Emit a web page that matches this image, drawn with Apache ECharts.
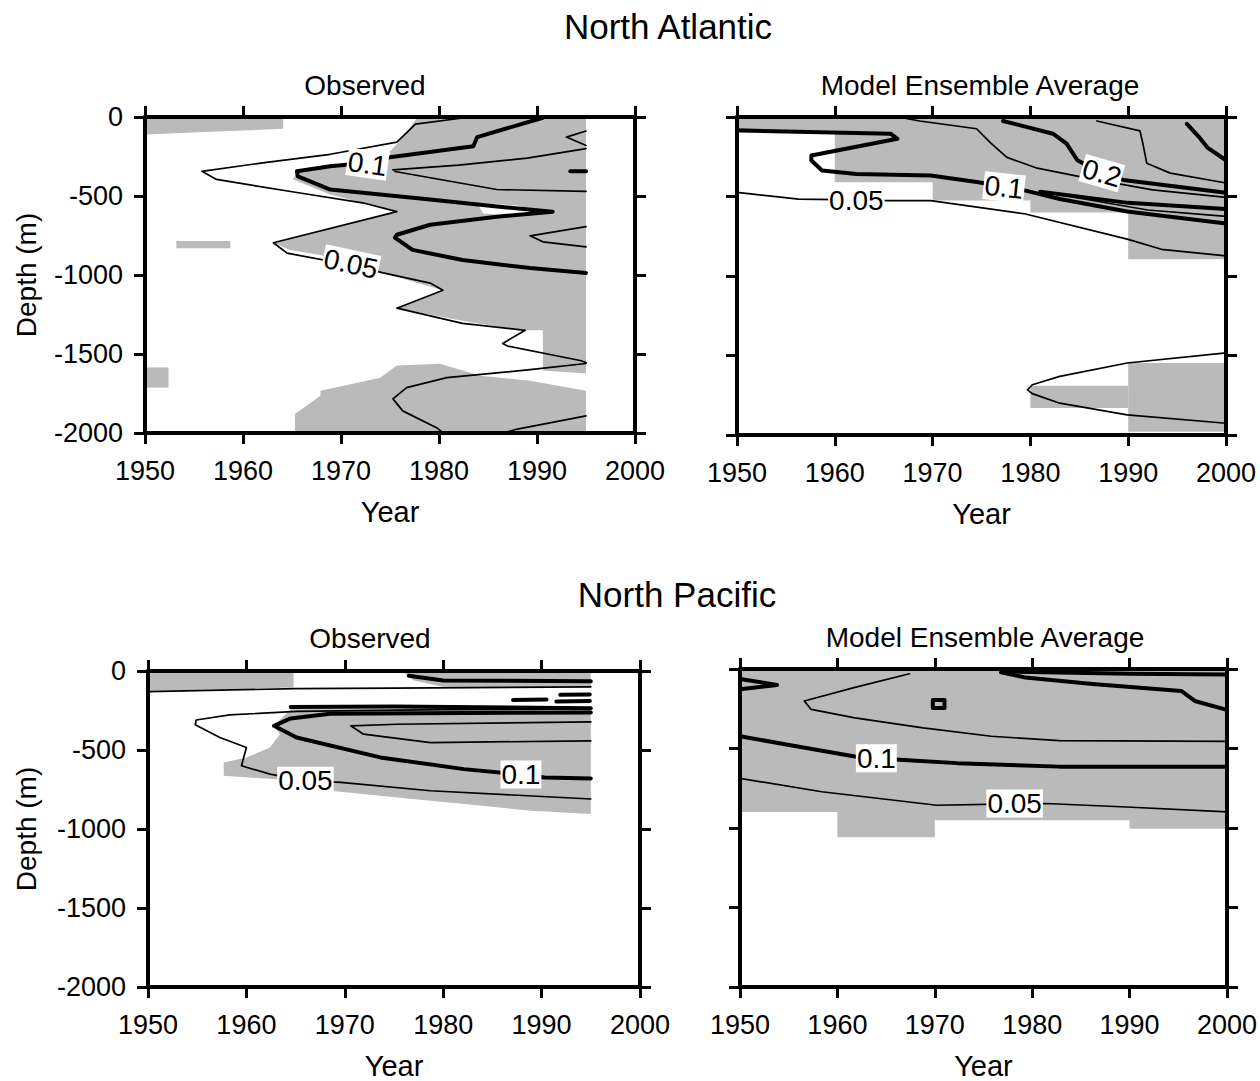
<!DOCTYPE html>
<html><head><meta charset="utf-8">
<script src="https://cdn.jsdelivr.net/npm/echarts@6/dist/echarts.min.js"></script>
<style>html,body{margin:0;padding:0;background:#fff}#c{width:1260px;height:1081px}</style>
</head><body><div id="c"></div>
<script>
// ---------- ticks & titles ----------
const xTicks = [1950, 1960, 1970, 1980, 1990, 2000];
const yTicks = [0, -500, -1000, -1500, -2000];
const basinTitles = ['North Atlantic', 'North Pacific'];
const panelTitles = ['Observed', 'Model Ensemble Average', 'Observed', 'Model Ensemble Average'];

// ---------- North Atlantic, observed ----------
const naObsShadeTop = [[1950,-8],[1964.1,-8],[1964.1,-75],[1958,-90],[1950,-110]];
const naObsShadeDot1 = [[1953.2,-785],[1958.7,-785],[1958.7,-830],[1953.2,-830]];
const naObsShadeDot2 = [[1950.2,-1585],[1952.4,-1585],[1952.4,-1713],[1950.2,-1713]];
const naObsShadeMain = [[1977.8,0],[1976.7,-96],[1975.7,-172],[1975,-217],[1975,-268],[1970.2,-312],[1965.5,-344],[1965.1,-395],[1968.9,-490],[1975.7,-599],[1963.1,-796],[1964.8,-841],[1967.9,-873],[1974.3,-987],[1980.4,-1096],[1975.7,-1210],[1983.2,-1299],[1988.6,-1350],[1990.6,-1350],[1990.6,-1605],[1995,-1624],[1995,0]];
const naObsShadeDeep = [[1967.9,-1733],[1974,-1650],[1975.7,-1573],[1980.1,-1561],[1984.2,-1637],[1989.3,-1669],[1995,-1733],[1995,-2000],[1965.3,-2000],[1965.3,-1879],[1967.9,-1764]];
const naObsHole = [[1983.9,-545],[1988,-560],[1990.5,-600],[1988,-625],[1984.5,-610]];
const naObsC05a = [[1983.2,0],[1977.6,-45],[1975.7,-159],[1968.9,-236],[1962,-290],[1955.8,-344],[1957.3,-395],[1965.5,-478],[1972.2,-543],[1975.7,-599],[1963.1,-796],[1964.5,-862],[1970.9,-936],[1974.3,-987],[1979.1,-1051],[1980.4,-1096],[1975.7,-1210],[1982.4,-1306],[1988.8,-1350],[1986.5,-1433],[1987,-1450],[1994.4,-1541],[1995,-1554]];
const naObsC05b = [[1995,-1560],[1989.3,-1599],[1980.8,-1650],[1976.7,-1713],[1975.3,-1784],[1976.3,-1860],[1979.8,-1968],[1980.4,-2000]];
const naObsC05c = [[1995,-1892],[1988,-1975],[1986.5,-2000]];
const naObsC10 = [[1990.6,-5],[1983.9,-127],[1983.5,-185],[1975,-255],[1972.7,-290],[1968.9,-312],[1965.5,-344],[1965.6,-376],[1967.1,-414],[1968.9,-459],[1979.1,-522],[1985.9,-567],[1991.6,-599],[1985.9,-631],[1979.1,-682],[1975.7,-745],[1975.5,-764],[1977.3,-841],[1982.4,-905],[1989.3,-956],[1995,-987]];
const naObsC15a = [[1975.3,-335],[1982,-305],[1989,-260],[1995,-200]];
const naObsC15b = [[1995,-89],[1993,-127],[1995,-180]];
const naObsC15c = [[1975.5,-345],[1985.9,-459],[1995,-471]];
const naObsC15d = [[1995,-694],[1989.3,-752],[1990.6,-790],[1995,-822]];
const naObsC20 = [[1993.4,-344],[1995,-344]];
const naObsLabels = [[1972.7,-298,'0.1'],[1971,-930,'0.05']];

// ---------- North Atlantic, model ----------
const naModShadeUpper = [[1950,0],[2000,0],[2000,-895],[1990,-895],[1990,-600],[1980,-600],[1980,-525],[1970,-525],[1970,-410],[1960,-410],[1960,-100],[1950,-100]];
const naModShadeDeep = [[1990,-1547],[2000,-1547],[2000,-1979],[1990,-1979]];
const naModShadeLobe = [[1980,-1690],[1990,-1690],[1990,-1830],[1980,-1830]];
const naModC05a = [[1950,-474],[1956.3,-516],[1962,-521],[1965.3,-526],[1969.8,-526],[1979.5,-610],[1989.9,-768],[1993.4,-832],[2000,-874]];
const naModC05b = [[2000,-1484],[1989.9,-1547],[1983,-1631],[1980.2,-1684],[1979.7,-1716],[1980.2,-1740],[1983,-1800],[1989.9,-1873],[2000,-1926]];
const naModC10 = [[1950,-84],[1965.7,-105],[1966.4,-137],[1957.6,-242],[1957.6,-274],[1958.7,-337],[1962.2,-358],[1969.8,-368],[1974.7,-410],[1977.3,-440],[1979.5,-463],[1983,-516],[1989.9,-594],[2000,-670]];
const naModC15 = [[1967,-5],[1968.7,-25],[1974.5,-74],[1975.9,-161],[1977.6,-254],[1980.7,-322],[1985.8,-384],[1992.5,-458],[2000,-505]];
const naModC15b = [[1984,-500],[1992,-585],[2000,-625]];
const naModC20 = [[1977.2,-25],[1982.3,-105],[1983.7,-167],[1984.8,-272],[1987.3,-353],[1989.5,-396],[2000,-477]];
const naModC20b = [[1981,-470],[1990,-540],[2000,-578]];
const naModC25 = [[1986.8,-25],[1991.2,-87],[1991.5,-167],[1991.9,-291],[1994.3,-353],[2000,-415]];
const naModC30 = [[1996,-43],[1997.3,-130],[1998.1,-192],[2000,-272]];
const naModLabels = [[1962.2,-528,'0.05'],[1977.3,-442,'0.1'],[1987.3,-353,'0.2']];

// ---------- North Pacific, observed ----------
const npObsShadeTop = [[1950,-8],[1964.8,-8],[1964.8,-105],[1950,-125]];
const npObsShadeTopRight = [[1976,-10],[1995,-10],[1995,-105],[1980,-100],[1977,-60]];
const npObsShadeMain = [[1964.5,-242],[1995,-232],[1995,-905],[1988.9,-884],[1978.7,-821],[1968.5,-758],[1962.8,-684],[1957.7,-663],[1957.7,-579],[1960,-547],[1962.4,-484],[1963.4,-400],[1962.8,-347]];
const npObsC05 = [[1995,-240],[1980,-245],[1965.1,-255],[1958.3,-278],[1954.9,-310],[1954.8,-340],[1957.3,-421],[1960,-484],[1959.5,-600],[1962.4,-653],[1966,-695],[1969.6,-705],[1978.7,-758],[1995,-810]];
const npObsC10 = [[1995,-262],[1968.5,-270],[1964.5,-300],[1962.8,-347],[1965.1,-421],[1973.6,-547],[1982.1,-621],[1987.9,-655],[1990.3,-674],[1995,-680]];
const npObsC15 = [[1995,-322],[1975.3,-337],[1970.6,-347],[1971.9,-400],[1978.7,-453],[1995,-442]];
const npObsC15b = [[1950,-130],[1965,-112],[1975,-108],[1995,-100]];
const npObsC20a = [[1964.5,-228],[1975,-225],[1995,-235]];
const npObsC20b = [[1976.5,-30],[1980,-60],[1995,-65]];
const npObsC20c = [[1987.1,-183],[1990.5,-180]];
const npObsC20d = [[1991.9,-151],[1994.9,-148]];
const npObsC20e = [[1991.5,-193],[1994.9,-190]];
const npObsLabels = [[1966,-695,'0.05'],[1987.9,-655,'0.1']];

// ---------- North Pacific, model ----------
const npModShade = [[1950,0],[2000,0],[2000,-1005],[1990,-1005],[1990,-952],[1970,-952],[1970,-1058],[1960,-1058],[1960,-899],[1950,-899]];
const npModC05 = [[1950,-688],[1958.4,-772],[1970.2,-857],[1978,-848],[1981.4,-846],[1989.7,-868],[2000,-899]];
const npModC10 = [[1950,-423],[1954.9,-476],[1961.8,-550],[1964,-561],[1966.4,-571],[1972.3,-592],[1982.8,-614],[2000,-614]];
const npModC15 = [[1967.4,-30],[1961.8,-116],[1956.6,-201],[1957.3,-254],[1961.8,-307],[1968.8,-370],[1975.8,-423],[1982.8,-451],[2000,-455]];
const npModC20 = [[1976.8,-21],[1979.3,-53],[1986.2,-95],[1995.3,-138],[1996.7,-201],[1999.8,-254]];
const npModC20b = [[1977,-15],[1990,-30],[2000,-35]];
const npModC20c = [[1950,-63],[1953.8,-100],[1950,-127]];
const npModBox = [[1969.8,-195],[1971,-195],[1971,-245],[1969.8,-245],[1969.8,-195]];
const npModLabels = [[1964,-561,'0.1'],[1978.2,-846,'0.05']];

// ---------- assembly ----------
const FONT = '"Liberation Sans", Arial, Helvetica, sans-serif';
const SHADE = '#bababa';
const grids = [
  {left:145, top:117, width:490, height:316},
  {left:737, top:117, width:489, height:318},
  {left:148, top:671, width:492, height:317},
  {left:740, top:669, width:488, height:320}
];
const panels = [
  {shades:[naObsShadeTop,naObsShadeDot1,naObsShadeDot2,naObsShadeMain,naObsShadeDeep], holes:[naObsHole],
   thin:[naObsC05a,naObsC05b,naObsC05c,naObsC15a,naObsC15b,naObsC15c,naObsC15d], thick:[naObsC10,naObsC20],
   labels:naObsLabels, rot:[-8,-12]},
  {shades:[naModShadeUpper,naModShadeDeep,naModShadeLobe], holes:[],
   thin:[naModC05a,naModC05b,naModC15,naModC15b,naModC25], thick:[naModC10,naModC20,naModC20b,naModC30],
   labels:naModLabels, rot:[0,-6,-16]},
  {shades:[npObsShadeTop,npObsShadeTopRight,npObsShadeMain], holes:[],
   thin:[npObsC05,npObsC15,npObsC15b], thick:[npObsC10,npObsC20a,npObsC20b,npObsC20c,npObsC20d,npObsC20e],
   labels:npObsLabels, rot:[0,0]},
  {shades:[npModShade], holes:[],
   thin:[npModC05,npModC15], thick:[npModC10,npModC20,npModC20b,npModC20c,npModBox],
   labels:npModLabels, rot:[0,0]}
];

const xAxes = [], yAxes = [], series = [];
const axLine = {onZero:false, lineStyle:{color:'#000', width:4}};
const axTick = {show:true, length:11, lineStyle:{color:'#000', width:3}};
const lblStyle = {color:'#000', fontSize:27, fontFamily:FONT};

grids.forEach((g, gi) => {
  const leftCol = gi % 2 === 0;
  xAxes.push({gridIndex:gi, type:'value', position:'bottom', min:xTicks[0], max:xTicks[xTicks.length-1], interval:xTicks[1]-xTicks[0],
    axisLine:axLine, axisTick:axTick, splitLine:{show:false}, z:10,
    axisLabel:Object.assign({margin:24, formatter:v => String(v)}, lblStyle),
    name:'Year', nameLocation:'middle', nameGap:64, nameTextStyle:{color:'#000', fontSize:29, fontFamily:FONT}});
  xAxes.push({gridIndex:gi, type:'value', position:'top', min:xTicks[0], max:xTicks[xTicks.length-1], interval:xTicks[1]-xTicks[0],
    axisLine:axLine, axisTick:axTick, splitLine:{show:false}, axisLabel:{show:false}, z:10});
  yAxes.push({gridIndex:gi, type:'value', position:'left', min:yTicks[yTicks.length-1], max:yTicks[0], interval:yTicks[0]-yTicks[1],
    axisLine:axLine, axisTick:axTick, splitLine:{show:false}, z:10,
    axisLabel:Object.assign({show:leftCol, margin:22, formatter:v => String(v)}, lblStyle),
    name:leftCol ? 'Depth (m)' : '', nameLocation:'middle', nameGap: gi === 0 ? 105 : 108, nameRotate:90,
    nameTextStyle:{color:'#000', fontSize:28, fontFamily:FONT}});
  yAxes.push({gridIndex:gi, type:'value', position:'right', min:yTicks[yTicks.length-1], max:yTicks[0], interval:yTicks[0]-yTicks[1],
    axisLine:axLine, axisTick:axTick, splitLine:{show:false}, axisLabel:{show:false}, z:10});

  const p = panels[gi];
  const poly = (pts, fill, z) => ({type:'custom', xAxisIndex:gi*2, yAxisIndex:gi*2, data:pts, silent:true, z:z, clip:true,
    renderItem:(params, api) => params.dataIndex !== 0 ? null :
      {type:'polygon', shape:{points: pts.map(q => api.coord(q))}, style:{fill:fill}}});
  p.shades.forEach(s => series.push(poly(s, SHADE, 1)));
  p.holes.forEach(s => series.push(poly(s, '#ffffff', 1.5)));
  const line = (pts, w) => ({type:'line', xAxisIndex:gi*2, yAxisIndex:gi*2, data:pts, symbol:'none', silent:true, z:3, clip:true,
    lineStyle:{color:'#000', width:w, join:'round', cap:'round'}});
  p.thin.forEach(s => series.push(line(s, 1.7)));
  p.thick.forEach(s => series.push(line(s, 4)));
  series.push({type:'scatter', xAxisIndex:gi*2, yAxisIndex:gi*2, symbolSize:1, silent:true, z:5,
    itemStyle:{color:'rgba(0,0,0,0)'},
    label:{show:true, position:'inside', color:'#000', fontSize:28, fontFamily:FONT, backgroundColor:'#fff',
      padding:[0,1], textBorderWidth:0, textBorderColor:'transparent', opacity:1},
    data: p.labels.map((l, i) => ({value:[l[0], l[1]], label:{formatter:l[2], rotate:p.rot[i] || 0}}))});
});

const txt = (t, x, y, size) => ({type:'text', x:x, y:y, z:20,
  style:{text:t, fontSize:size, fontFamily:FONT, fill:'#000', align:'center', verticalAlign:'middle'}});

const chart = echarts.init(document.getElementById('c'), null, {renderer:'svg'});
chart.setOption({
  animation:false,
  backgroundColor:'#fff',
  grid: grids,
  xAxis: xAxes,
  yAxis: yAxes,
  series: series,
  graphic: [
    txt(basinTitles[0], 668, 26, 35),
    txt(panelTitles[0], 365, 85, 28),
    txt(panelTitles[1], 980, 85, 28),
    txt(basinTitles[1], 677, 594, 35),
    txt(panelTitles[2], 370, 638, 28),
    txt(panelTitles[3], 985, 637, 28)
  ]
});
</script></body></html>
